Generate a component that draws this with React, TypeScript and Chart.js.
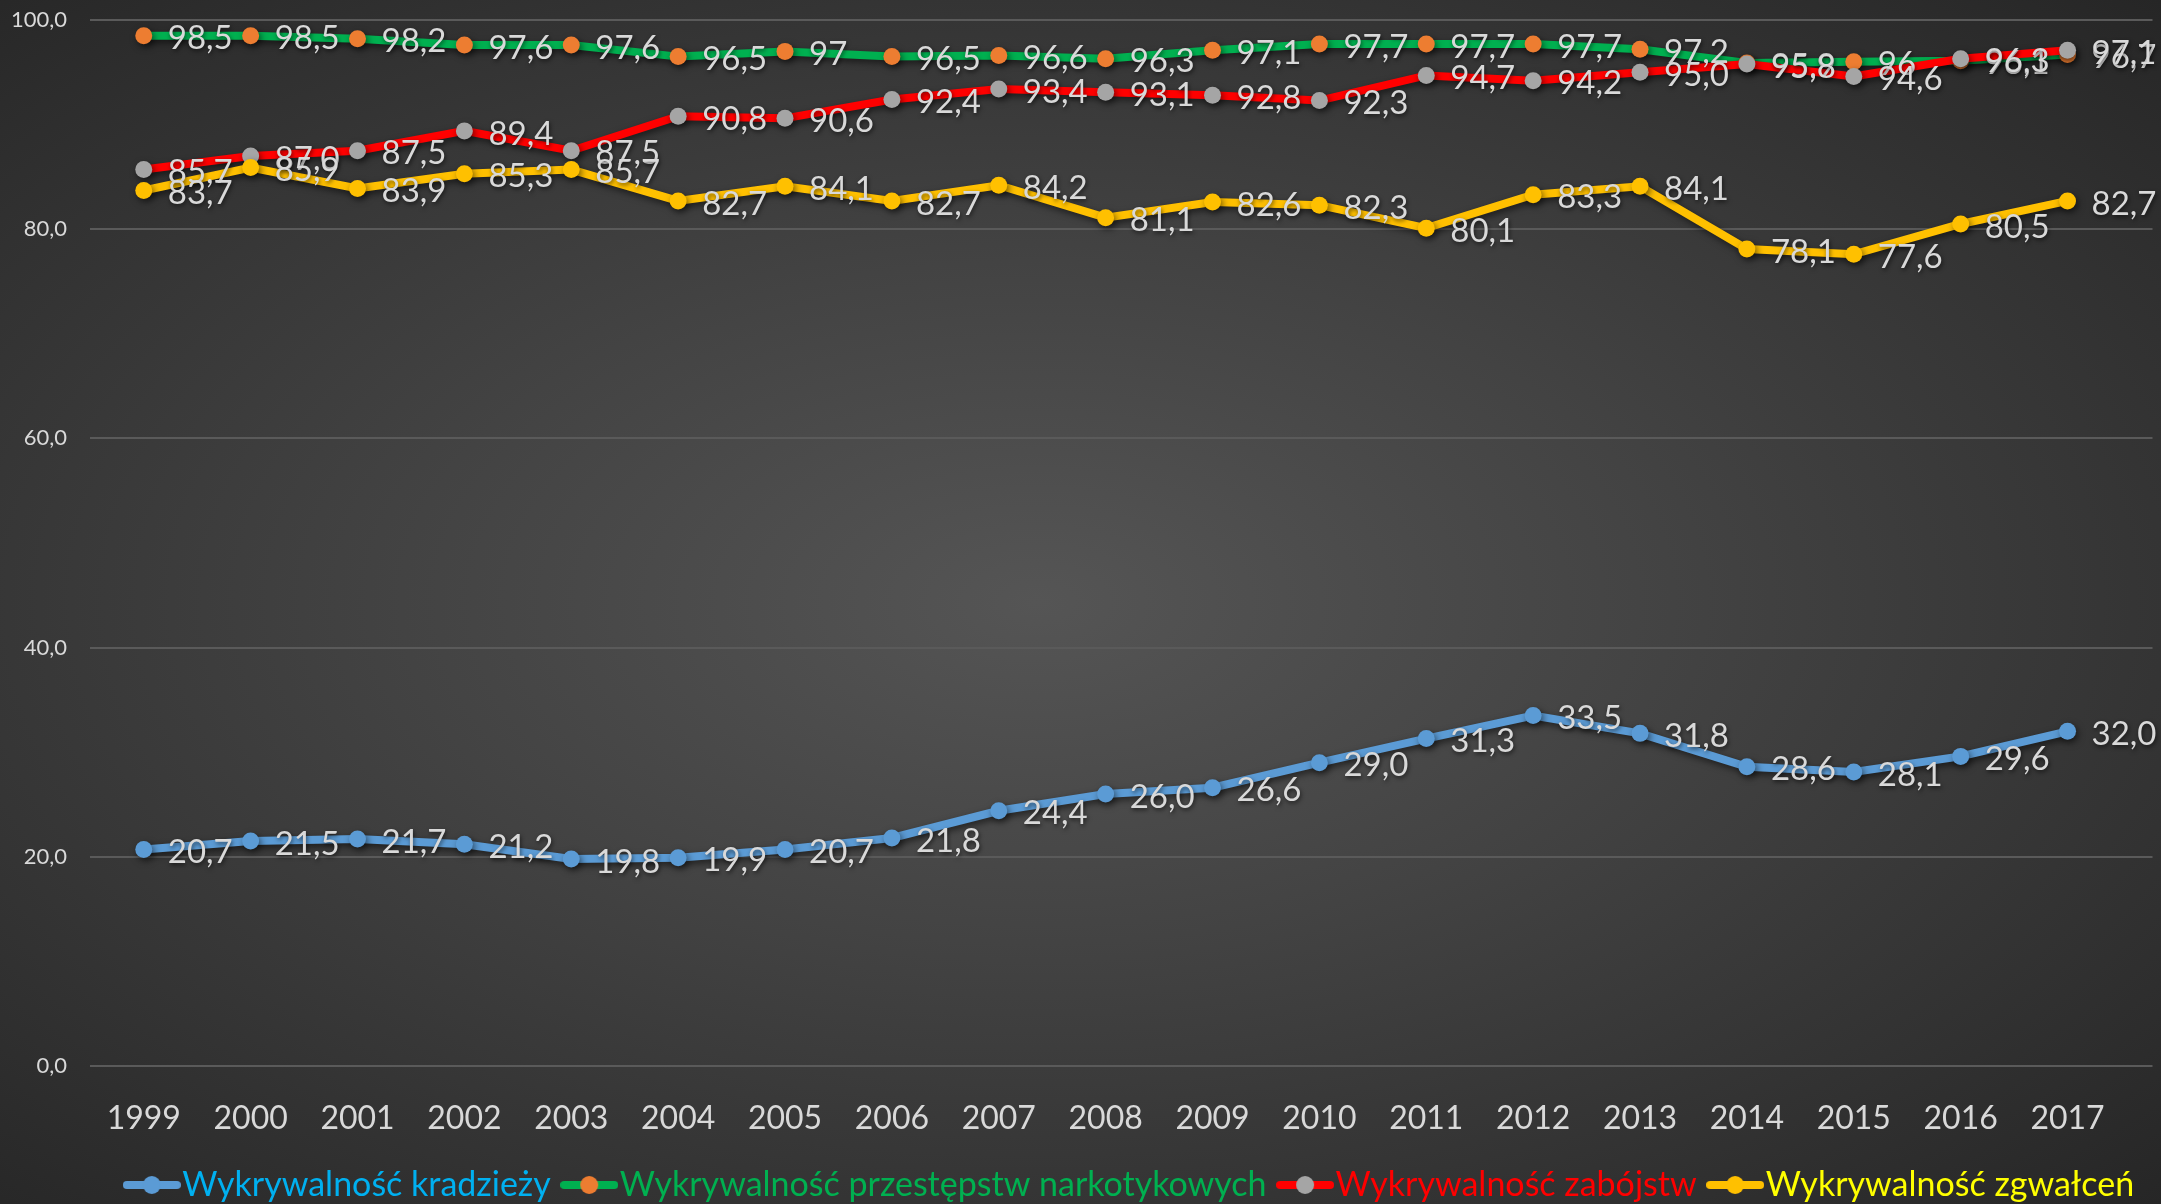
import React, { useEffect, useRef } from 'react';
import { Chart, registerables } from 'chart.js';

Chart.register(...registerables);

// ---------- DATA ----------
const years = [1999, 2000, 2001, 2002, 2003, 2004, 2005, 2006, 2007, 2008, 2009, 2010, 2011, 2012, 2013, 2014, 2015, 2016, 2017];
const kradziezy = [20.7, 21.5, 21.7, 21.2, 19.8, 19.9, 20.7, 21.8, 24.4, 26.0, 26.6, 29.0, 31.3, 33.5, 31.8, 28.6, 28.1, 29.6, 32.0];
const narkotykowe = [98.5, 98.5, 98.2, 97.6, 97.6, 96.5, 97, 96.5, 96.6, 96.3, 97.1, 97.7, 97.7, 97.7, 97.2, 95.9, 96, 96.1, 96.7];
const zabojstwa = [85.7, 87.0, 87.5, 89.4, 87.5, 90.8, 90.6, 92.4, 93.4, 93.1, 92.8, 92.3, 94.7, 94.2, 95.0, 95.8, 94.6, 96.3, 97.1];
const zgwalcenia = [83.7, 85.9, 83.9, 85.3, 85.7, 82.7, 84.1, 82.7, 84.2, 81.1, 82.6, 82.3, 80.1, 83.3, 84.1, 78.1, 77.6, 80.5, 82.7];
const seriesNames = [
  'Wykrywalność kradzieży',
  'Wykrywalność przestępstw narkotykowych',
  'Wykrywalność zabójstw',
  'Wykrywalność zgwałceń',
];
const yMin = 0;
const yMax = 100;
const yStep = 20;

// ---------- STYLE ----------
const FONT = 'Lato, "Open Sans", sans-serif';
const TEXT = '#D9D9D9';
const series = [
  { values: kradziezy, line: '#5B9BD5', point: '#5B9BD5', legend: '#00B0F0', fixed: true },
  { values: narkotykowe, line: '#00B050', point: '#ED7D31', legend: '#00B050', fixed: false },
  { values: zabojstwa, line: '#FF0000', point: '#A5A5A5', legend: '#FF0000', fixed: true },
  { values: zgwalcenia, line: '#FFC000', point: '#FFC000', legend: '#FFFF00', fixed: true },
];

const fmt = (v: number, fixed: boolean) =>
  (fixed ? v.toFixed(1) : String(v)).replace('.', ',');

function makeMarker(line: string, dot: string) {
  const c = document.createElement('canvas');
  c.width = 58;
  c.height = 22;
  const g = c.getContext('2d')!;
  g.strokeStyle = line;
  g.lineWidth = 8;
  g.lineCap = 'round';
  g.beginPath();
  g.moveTo(4, 11);
  g.lineTo(54, 11);
  g.stroke();
  g.fillStyle = dot;
  g.beginPath();
  g.arc(29, 11, 9, 0, Math.PI * 2);
  g.fill();
  return c;
}

const shadowPlugin = {
  id: 'lineShadow',
  beforeDatasetsDraw(chart: any) {
    const c = chart.ctx;
    c.save();
    c.shadowColor = 'rgba(0,0,0,0.55)';
    c.shadowBlur = 7;
    c.shadowOffsetX = 2;
    c.shadowOffsetY = 3;
  },
  afterDatasetsDraw(chart: any) {
    chart.ctx.restore();
  },
};

const legendShiftPlugin = {
  id: 'legendShift',
  afterLayout(chart: any) {
    if (chart.legend) {
      chart.legend.left += 15;
      chart.legend.right += 15;
    }
  },
};

const labelPlugin = {
  id: 'dataLabels',
  afterDatasetsDraw(chart: any) {
    const ctx = chart.ctx;
    ctx.save();
    ctx.font = `33px ${FONT}`;
    ctx.fillStyle = TEXT;
    ctx.textBaseline = 'middle';
    ctx.textAlign = 'left';
    ctx.shadowColor = 'rgba(0,0,0,0.6)';
    ctx.shadowBlur = 4;
    ctx.shadowOffsetX = 1;
    ctx.shadowOffsetY = 2;
    chart.data.datasets.forEach((ds: any, i: number) => {
      const meta = chart.getDatasetMeta(i);
      meta.data.forEach((pt: any, j: number) => {
        ctx.fillText(fmt(ds.data[j].y, series[i].fixed), pt.x + 24, pt.y + 3);
      });
    });
    ctx.restore();
  },
};

export default function App() {
  const ref = useRef<HTMLCanvasElement>(null);

  useEffect(() => {
    if (!ref.current) return;
    const markers = series.map((s) => makeMarker(s.line, s.point));
    const chart = new Chart(ref.current, {
      type: 'line',
      data: {
        datasets: series.map((s, i) => ({
          label: seriesNames[i],
          data: years.map((y, j) => ({ x: y, y: s.values[j] })),
          borderColor: s.line,
          backgroundColor: s.point,
          pointBackgroundColor: s.point,
          pointBorderColor: s.point,
          pointBorderWidth: 0,
          pointRadius: 8.5,
          borderWidth: 8,
          tension: 0,
          order: 3 - i,
          clip: false as any,
        })),
      },
      options: {
        responsive: false,
        devicePixelRatio: 1,
        animation: false,
        layout: { padding: { top: 20, left: 0, right: 0, bottom: -8 } },
        plugins: {
          tooltip: { enabled: false },
          legend: {
            position: 'bottom',
            align: 'center',
            fullSize: false,
            labels: {
              usePointStyle: true,
              pointStyleWidth: 27,
              padding: 25,
              font: { family: FONT, size: 34 },
              generateLabels: () =>
                series.map((s, i) => ({
                  text: seriesNames[i],
                  fontColor: s.legend,
                  fillStyle: s.point,
                  strokeStyle: 'transparent',
                  lineWidth: 0,
                  pointStyle: markers[i] as any,
                  hidden: false,
                  datasetIndex: i,
                })),
            },
          },
        },
        scales: {
          x: {
            type: 'linear',
            min: years[0] - 0.503,
            max: years[years.length - 1] + 0.795,
            grid: { display: false },
            border: { display: false },
            afterBuildTicks: (scale: any) => {
              scale.ticks = years.map((v) => ({ value: v }));
            },
            afterFit: (scale: any) => {
              scale.height = 77;
            },
            ticks: {
              color: TEXT,
              font: { family: FONT, size: 32 },
              padding: 25,
              maxRotation: 0,
              autoSkip: false,
              callback: (v: any) => String(v),
            },
          },
          y: {
            min: yMin,
            max: yMax,
            grid: {
              color: '#5A5A5A',
              lineWidth: 2,
              drawTicks: true,
              tickLength: 23,
              tickColor: 'rgba(0,0,0,0)',
            },
            border: { display: false },
            afterFit: (scale: any) => {
              scale.width = 90;
            },
            ticks: {
              stepSize: yStep,
              color: TEXT,
              font: { family: FONT, size: 22 },
              padding: 0,
              callback: (v: any) => Number(v).toFixed(1).replace('.', ','),
            },
          },
        },
      },
      plugins: [shadowPlugin, legendShiftPlugin, labelPlugin],
    });
    return () => chart.destroy();
  }, []);

  return (
    <div
      style={{
        position: 'fixed',
        left: 0,
        top: 0,
        width: 2161,
        height: 1204,
        background:
          'radial-gradient(ellipse farthest-corner at 48% 50%, #555555 0%, #434343 40%, #262626 100%)',
      }}
    >
      <canvas ref={ref} width={2161} height={1204} style={{ display: 'block' }} />
    </div>
  );
}
